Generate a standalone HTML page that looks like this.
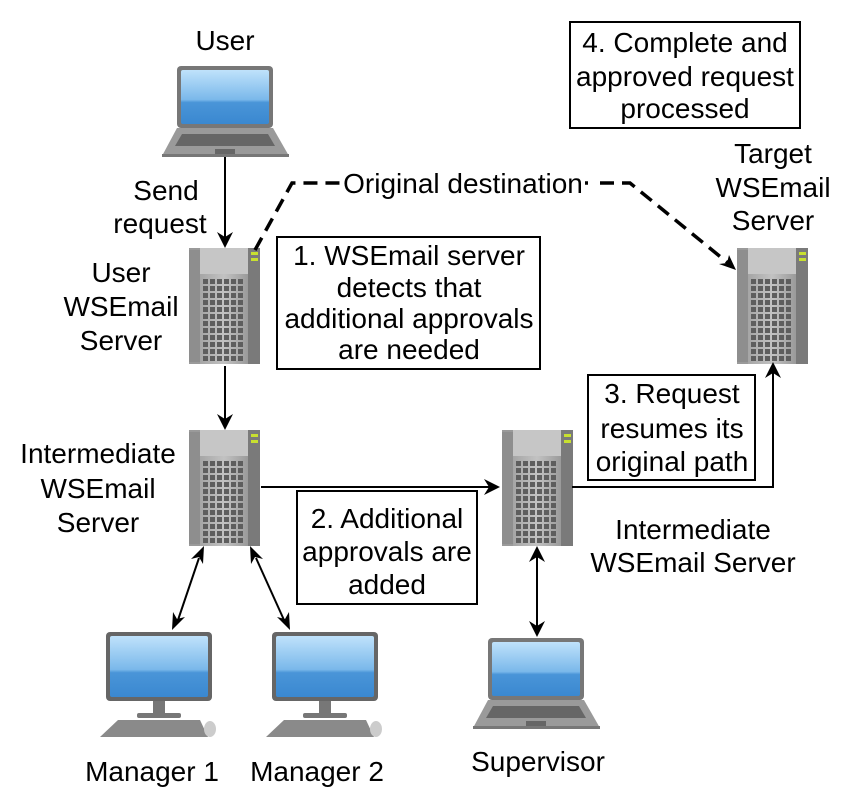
<!DOCTYPE html>
<html><head><meta charset="utf-8"><style>
html,body{margin:0;padding:0;background:#fff}
svg{display:block}
text{font-family:"Liberation Sans",Arial,sans-serif;font-size:28px;fill:#000}
</style></head><body>
<svg width="850" height="806" viewBox="0 0 850 806" xmlns="http://www.w3.org/2000/svg" font-family="Liberation Sans, Arial, sans-serif" font-size="28">
<defs>
<linearGradient id="scr" x1="0" y1="0" x2="0" y2="1">
<stop offset="0" stop-color="#bfe2fb"/><stop offset="0.55" stop-color="#7ab8ea"/><stop offset="0.6" stop-color="#4a95d8"/><stop offset="1" stop-color="#3a88d0"/>
</linearGradient>
<linearGradient id="sv" x1="0" y1="0" x2="1" y2="0">
<stop offset="0" stop-color="#a5a5a5"/><stop offset="0.5" stop-color="#c2c2c2"/><stop offset="1" stop-color="#9a9a9a"/>
</linearGradient>
<g id="row"><path d="M14 0h5v5h-5zM21 0h5v5h-5zM28 0h5v5h-5zM35 0h5v5h-5zM42 0h5v5h-5zM49 0h5v5h-5z"/></g>
<g id="server">
<rect x="0" y="0" width="71" height="116" fill="#9a9a9a"/>
<rect x="0" y="2" width="11" height="112" fill="#8e8e8e"/>
<rect x="11" y="0" width="48" height="116" fill="url(#sv)"/>
<rect x="11" y="0" width="48" height="26" fill="#c6c6c6"/>
<rect x="59" y="0" width="12" height="116" fill="#7a7a7a"/>
<rect x="62" y="4" width="7" height="3" fill="#c8e030"/>
<rect x="62" y="10" width="7" height="3" fill="#c8e030"/>
<g fill="#5e5e5e">
<use href="#row" y="31"/><use href="#row" y="38"/><use href="#row" y="45"/><use href="#row" y="52"/>
<use href="#row" y="59"/><use href="#row" y="66"/><use href="#row" y="73"/><use href="#row" y="80"/>
<use href="#row" y="87"/><use href="#row" y="94"/><use href="#row" y="101"/><use href="#row" y="108"/>
</g>
</g>
<g id="laptop">
<rect x="15" y="0" width="96" height="62" rx="4" fill="#777"/>
<rect x="19" y="4" width="88" height="54" rx="2" fill="url(#scr)"/>
<path d="M15 62h96l16 28H0z" fill="#9a9a9a"/>
<path d="M20 68h86l7 12H13z" fill="#666"/>
<rect x="53" y="83" width="20" height="5" fill="#666"/>
<rect x="0" y="88" width="127" height="3" fill="#777"/>
</g>
<g id="desk">
<rect x="0" y="0" width="106" height="69" rx="4" fill="#666"/>
<rect x="4" y="4" width="98" height="61" rx="2" fill="url(#scr)"/>
<rect x="47" y="69" width="12" height="13" fill="#777"/>
<rect x="31" y="81" width="44" height="5" rx="2" fill="#777"/>
<path d="M12 88h82l8 17H-6z" fill="#8a8a8a"/>
<ellipse cx="104" cy="97" rx="6" ry="8" fill="#ccc"/>
</g>
</defs>

<use href="#laptop" x="162" y="66"/>
<use href="#server" x="189" y="248"/>
<use href="#server" x="189" y="430"/>
<use href="#server" x="502" y="430"/>
<use href="#server" x="737" y="248"/>
<use href="#desk" x="106" y="632"/>
<use href="#desk" x="272" y="632"/>
<use href="#laptop" x="473" y="638"/>

<g stroke="#000" stroke-width="2" fill="none">
<line x1="225" y1="157" x2="225" y2="238"/>
<line x1="225" y1="366" x2="225" y2="420"/>
<line x1="261" y1="487" x2="490" y2="487"/>
<polyline points="572,487 773,487 773,372"/>
<line x1="199" y1="558" x2="178" y2="620"/>
<line x1="256" y1="558" x2="284" y2="620"/>
<line x1="537" y1="557" x2="537" y2="626"/>
</g>
<g fill="#000">
<path d="M225 248l-8-16 8 5 8-5z"/>
<path d="M225 430l-8-16 8 5 8-5z"/>
<path d="M500 487l-16-8 5 8-5 8z"/>
<path d="M773 362l-8 16 8-5 8 5z"/>
<path d="M204 546l-1 18 -4-7 -8 2z"/>
<path d="M172 630l1-18 4 7 8-2z"/>
<path d="M250 546l1 18 4-7 8 2z"/>
<path d="M290 630l-1-18 -4 7 -8-2z"/>
<path d="M537 546l-8 16 8-5 8 5z"/>
<path d="M537 637l-8-16 8 5 8-5z"/>
<path d="M736 270l-17-6 8-1 2-8z"/>
</g>
<g stroke="#000" stroke-width="3.5" fill="none">
<polyline points="255,250 292,183 340,183" stroke-dasharray="14,8"/>
<line x1="585" y1="183" x2="588" y2="183"/>
<polyline points="600,183 630,183 728,263" stroke-dasharray="14,8"/>
</g>

<g fill="#fff" stroke="#000" stroke-width="2">
<rect x="570" y="22" width="230" height="106"/>
<rect x="277" y="237" width="263" height="132"/>
<rect x="588" y="375" width="167" height="105"/>
<rect x="297" y="491" width="180" height="113"/>
</g>

<g text-anchor="middle">
<text x="225" y="50">User</text>
<text x="166" y="200">Send</text>
<text x="160" y="233">request</text>
<text x="121" y="282">User</text>
<text x="121" y="316">WSEmail</text>
<text x="121" y="350">Server</text>
<text x="98" y="463">Intermediate</text>
<text x="98" y="498">WSEmail</text>
<text x="98" y="532">Server</text>
<text x="463" y="193">Original destination</text>
<text x="773" y="163">Target</text>
<text x="773" y="197">WSEmail</text>
<text x="773" y="230">Server</text>
<text x="685" y="52">4. Complete and</text>
<text x="685" y="86">approved request</text>
<text x="685" y="118">processed</text>
<text x="409" y="265">1. WSEmail server</text>
<text x="409" y="297">detects that</text>
<text x="409" y="328">additional approvals</text>
<text x="409" y="359">are needed</text>
<text x="672" y="403">3. Request</text>
<text x="672" y="438">resumes its</text>
<text x="672" y="471">original path</text>
<text x="387" y="528">2. Additional</text>
<text x="387" y="561">approvals are</text>
<text x="387" y="594">added</text>
<text x="693" y="539">Intermediate</text>
<text x="693" y="572">WSEmail Server</text>
<text x="152" y="781">Manager 1</text>
<text x="317" y="781">Manager 2</text>
<text x="538" y="771">Supervisor</text>
</g>
</svg>
</body></html>
